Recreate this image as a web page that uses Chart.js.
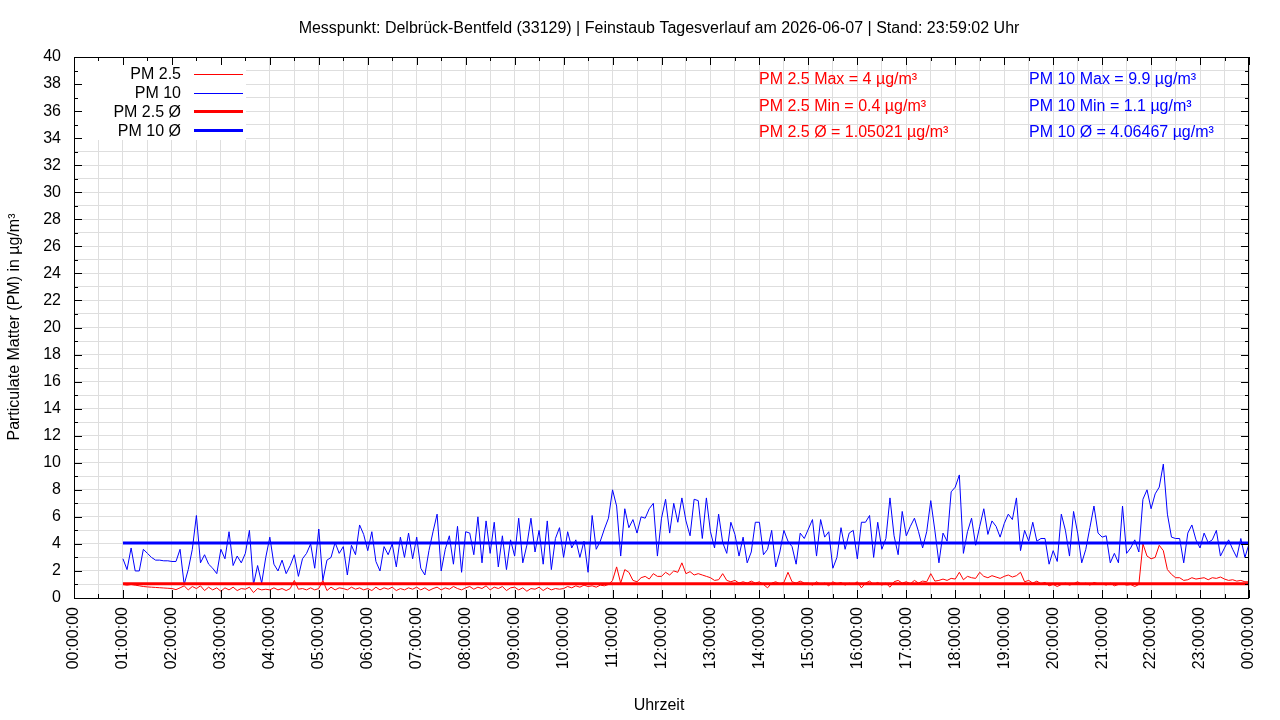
<!DOCTYPE html>
<html>
<head>
<meta charset="utf-8">
<title>Feinstaub Tagesverlauf</title>
<script src="https://cdn.jsdelivr.net/npm/chart.js@4.4.1/dist/chart.umd.min.js"></script>
<style>
  html, body { margin: 0; padding: 0; background: #fff; }
  #wrap { width: 1280px; height: 720px; }
</style>
</head>
<body>
<div id="wrap"><canvas id="pm-chart" width="1280" height="720"></canvas></div>
<script>
const startHour = 1;
const stepMinutes = 5;

const pm25 = [
    1.0, 0.95, 1.0, 0.95, 0.9, 0.85, 0.82, 0.8, 0.78, 0.76, 0.74, 0.72,
    0.7, 0.62, 0.75, 0.9, 0.6, 0.85, 0.7, 0.9, 0.55, 0.8, 0.6, 0.75,
    0.5, 0.75, 0.6, 0.8, 0.55, 0.7, 0.65, 0.8, 0.4, 0.7, 0.6, 0.65,
    0.6, 0.75, 0.6, 0.7, 0.55, 0.7, 1.3, 0.65, 0.7, 0.6, 0.75, 0.6,
    0.7, 1.3, 0.55, 0.8, 0.6, 0.75, 0.7, 0.6, 0.8, 0.65, 0.75, 0.6,
    0.7, 0.55, 0.8, 0.6, 0.75, 0.65, 0.8, 0.55, 0.7, 0.6, 0.75, 0.65,
    0.8, 0.6, 0.75, 0.55, 0.7, 0.8, 0.6, 0.75, 0.65, 0.85, 0.7, 0.6,
    0.75, 0.85, 0.65, 0.8, 0.7, 0.9, 0.6, 0.8, 0.7, 0.85, 0.55, 0.75,
    0.8, 0.6, 0.75, 0.5, 0.7, 0.65, 0.8, 0.55, 0.75, 0.6, 0.7, 0.65,
    0.7, 0.85, 0.75, 0.9, 0.8, 0.95, 0.85, 0.9, 0.8, 0.95, 0.9, 1.0,
    1.3, 2.3, 1.1, 2.1, 1.9, 1.3, 1.2, 1.5, 1.6, 1.4, 1.8, 1.6,
    1.6, 1.9, 1.7, 2.0, 1.9, 2.6, 1.8, 1.95, 1.7, 1.8, 1.7, 1.6,
    1.5, 1.3, 1.35, 1.8, 1.3, 1.2, 1.3, 1.1, 1.2, 1.1, 1.25, 1.1,
    1.2, 1.0, 0.75, 1.1, 1.2, 1.05, 1.15, 1.9, 1.2, 1.1, 1.25, 1.1,
    1.1, 0.95, 1.2, 1.0, 1.1, 0.9, 1.2, 1.05, 1.15, 0.95, 1.1, 1.0,
    1.2, 0.75, 1.1, 1.25, 1.0, 1.15, 0.95, 1.1, 0.8, 1.2, 1.3, 1.1,
    1.2, 1.05, 1.3, 1.1, 1.25, 1.2, 1.8, 1.25, 1.3, 1.4, 1.3, 1.45,
    1.4, 1.9, 1.35, 1.6, 1.5, 1.45, 1.9, 1.6, 1.5, 1.65, 1.55, 1.45,
    1.6, 1.7, 1.55, 1.65, 1.9, 1.2, 1.3, 1.1, 1.25, 1.05, 1.15, 0.9,
    1.0, 0.85, 1.0, 1.1, 0.95, 1.05, 1.2, 1.0, 1.1, 0.95, 1.15, 1.05,
    1.05, 0.95, 1.1, 0.9, 1.0, 1.05, 0.95, 1.0, 0.85, 1.0, 4.0, 3.1,
    2.9, 3.0, 3.9, 3.5, 2.1, 1.75, 1.5, 1.5, 1.3, 1.35, 1.5, 1.4,
    1.45, 1.5, 1.35, 1.5, 1.45, 1.55, 1.4, 1.3, 1.35, 1.25, 1.3, 1.2,
    1.2
];

const pm10 = [
    2.9, 2.1, 3.7, 2.0, 2.0, 3.6, 3.3, 3.0, 2.8, 2.8, 2.75, 2.75,
    2.7, 2.7, 3.6, 1.0, 2.1, 3.6, 6.1, 2.6, 3.2, 2.5, 2.2, 1.8,
    3.6, 2.9, 4.9, 2.4, 3.1, 2.6, 3.3, 5.0, 1.0, 2.4, 1.1, 3.0,
    4.5, 2.5, 2.0, 2.8, 1.8, 2.4, 3.2, 1.6, 2.9, 3.3, 4.0, 2.2,
    5.1, 1.3, 2.8, 3.0, 4.1, 3.3, 3.8, 1.7, 3.9, 3.2, 5.4, 4.7,
    3.5, 4.9, 2.7, 2.0, 3.8, 3.2, 4.0, 2.3, 4.5, 3.0, 4.8, 2.9,
    4.5, 2.2, 1.7, 3.5, 4.9, 6.2, 2.0, 3.6, 4.6, 2.5, 5.3, 1.9,
    4.9, 4.8, 3.2, 6.0, 2.6, 5.7, 3.3, 5.6, 2.3, 4.6, 2.1, 4.3,
    3.1, 5.9, 2.6, 3.9, 5.9, 3.4, 5.0, 2.5, 5.7, 2.1, 4.4, 5.2,
    3.0, 4.9, 3.7, 4.3, 3.0, 4.2, 1.9, 6.1, 3.6, 4.2, 5.1, 5.9,
    8.0, 6.8, 3.1, 6.6, 5.2, 5.8, 4.8, 6.0, 5.9, 6.6, 7.0, 3.1,
    5.9, 7.3, 4.8, 7.0, 5.6, 7.4, 5.7, 4.6, 7.3, 7.2, 4.4, 7.4,
    4.9, 3.7, 6.2, 4.1, 3.3, 5.6, 4.7, 3.1, 4.5, 2.6, 3.4, 5.6,
    5.6, 3.2, 3.6, 5.0, 2.3, 3.4, 5.0, 4.2, 3.8, 2.5, 4.8, 4.4,
    5.1, 5.8, 3.1, 5.8, 4.5, 4.9, 2.2, 3.0, 5.2, 3.6, 4.8, 5.0,
    2.9, 5.6, 5.6, 6.1, 3.0, 5.6, 3.6, 4.4, 7.4, 4.6, 3.2, 6.4,
    4.6, 5.3, 5.9, 4.9, 3.7, 4.9, 7.2, 5.0, 2.6, 4.8, 4.2, 7.85,
    8.2, 9.1, 3.3, 4.9, 5.9, 3.9, 5.3, 6.6, 4.7, 5.7, 5.3, 4.5,
    5.5, 6.2, 5.8, 7.4, 3.5, 5.0, 4.2, 5.6, 4.2, 4.4, 4.4, 2.5,
    3.5, 2.7, 6.2, 5.0, 3.1, 6.4, 4.8, 2.6, 3.6, 5.2, 6.8, 4.8,
    4.5, 4.6, 2.6, 3.3, 2.6, 6.8, 3.3, 3.7, 4.3, 3.4, 7.3, 8.0,
    6.6, 7.7, 8.2, 9.9, 6.2, 4.5, 4.4, 4.4, 2.6, 4.8, 5.4, 4.3,
    3.7, 4.8, 4.1, 4.3, 5.0, 3.1, 3.7, 4.3, 3.6, 3.0, 4.4, 3.0,
    4.0
];

// Kennwerte des Tages
const pm25Max = 4;
const pm25Min = 0.4;
const pm25Avg = 1.05021;
const pm10Max = 9.9;
const pm10Min = 1.1;
const pm10Avg = 4.06467;

const legendLabels = ['PM 2.5', 'PM 10', 'PM 2.5 Ø', 'PM 10 Ø'];
const titleText = 'Messpunkt: Delbrück-Bentfeld (33129) | Feinstaub Tagesverlauf am 2026-06-07 | Stand: 23:59:02 Uhr';

const FONT = '"Liberation Sans", Arial, Helvetica, sans-serif';
const RED = '#ff0000';
const BLUE = '#0000ff';

const toPoints = arr => arr.map((v, i) => ({ x: startHour + i * stepMinutes / 60, y: v }));
const endHour = startHour + (pm10.length - 1) * stepMinutes / 60;
const flatLine = v => [{ x: startHour, y: v }, { x: endHour, y: v }];

function hourLabel(v) {
    const h = Math.round(v) % 24;
    return String(h).padStart(2, '0') + ':00:00';
}

// gnuplot-artiger Rahmen, Ticks, Legende und Beschriftungen
const gnuplotLook = {
    id: 'gnuplotLook',
    beforeDatasetsDraw(chart) {
        const ctx = chart.ctx;
        const a = chart.chartArea;
        ctx.save();
        ctx.fillStyle = '#fff';
        ctx.fillRect(a.left + 1, a.top + 1, 171, 82);
        ctx.restore();
    },
    afterDraw(chart) {
        const ctx = chart.ctx;
        const a = chart.chartArea;
        const x = chart.scales.x;
        const y = chart.scales.y;
        ctx.save();

        // ticks nach innen, auf allen vier Seiten
        ctx.strokeStyle = '#000';
        ctx.lineWidth = 1;
        ctx.beginPath();
        for (let v = 0; v <= 40; v++) {
            const py = Math.round(y.getPixelForValue(v)) + 0.5;
            const len = v % 2 === 0 ? 8 : 4;
            ctx.moveTo(a.left, py); ctx.lineTo(a.left + len, py);
            ctx.moveTo(a.right, py); ctx.lineTo(a.right - len, py);
        }
        for (let v = 0; v <= 24; v += 0.5) {
            const px = Math.round(x.getPixelForValue(v)) + 0.5;
            const len = Number.isInteger(v) ? 8 : 4;
            ctx.moveTo(px, a.bottom); ctx.lineTo(px, a.bottom - len);
            ctx.moveTo(px, a.top); ctx.lineTo(px, a.top + len);
        }
        ctx.stroke();
        ctx.strokeRect(Math.round(a.left) + 0.5, Math.round(a.top) + 0.5,
            Math.round(a.right - a.left) - 1, Math.round(a.bottom - a.top));

        // Legende
        ctx.font = '16px ' + FONT;
        ctx.fillStyle = '#000';
        ctx.textBaseline = 'middle';
        ctx.textAlign = 'right';
        const legendColors = [RED, BLUE, RED, BLUE];
        const legendWidths = [1, 1, 3, 3];
        legendLabels.forEach((txt, i) => {
            const ly = 74 + i * 18.7;
            ctx.fillText(txt, 181, ly + 1);
            ctx.strokeStyle = legendColors[i];
            ctx.lineWidth = legendWidths[i];
            ctx.beginPath();
            ctx.moveTo(194, Math.round(ly) + 0.5);
            ctx.lineTo(243, Math.round(ly) + 0.5);
            ctx.stroke();
        });

        // Kennwerte
        ctx.textAlign = 'left';
        ctx.fillStyle = RED;
        ctx.fillText('PM 2.5 Max = ' + pm25Max + ' µg/m³', 759, 80);
        ctx.fillText('PM 2.5 Min = ' + pm25Min + ' µg/m³', 759, 106.5);
        ctx.fillText('PM 2.5 Ø = ' + pm25Avg + ' µg/m³', 759, 133);
        ctx.fillStyle = BLUE;
        ctx.fillText('PM 10 Max = ' + pm10Max + ' µg/m³', 1029, 80);
        ctx.fillText('PM 10 Min = ' + pm10Min + ' µg/m³', 1029, 106.5);
        ctx.fillText('PM 10 Ø = ' + pm10Avg + ' µg/m³', 1029, 133);

        // Titel und Achsentitel
        ctx.fillStyle = '#000';
        ctx.textAlign = 'center';
        ctx.fillText(titleText, 659, 29);
        ctx.fillText('Uhrzeit', 659, 706);
        ctx.translate(15, 327);
        ctx.rotate(-Math.PI / 2);
        ctx.fillText('Particulate Matter (PM) in µg/m³', 0, 0);
        ctx.restore();
    }
};

const ctx = document.getElementById('pm-chart').getContext('2d');
const pmChart = new Chart(ctx, {
    type: 'line',
    data: {
        datasets: [
            { label: legendLabels[0], data: toPoints(pm25), borderColor: RED, borderWidth: 1, order: 4 },
            { label: legendLabels[1], data: toPoints(pm10), borderColor: BLUE, borderWidth: 1, order: 3 },
            { label: legendLabels[2], data: flatLine(pm25Avg), borderColor: RED, borderWidth: 3, order: 2 },
            { label: legendLabels[3], data: flatLine(pm10Avg), borderColor: BLUE, borderWidth: 3, order: 1 }
        ]
    },
    options: {
        responsive: false,
        animation: false,
        parsing: false,
        elements: {
            point: { radius: 0 },
            line: { tension: 0, fill: false, borderCapStyle: 'butt' }
        },
        layout: { padding: { left: 0, right: 31, top: 57, bottom: 0 } },
        plugins: {
            legend: { display: false },
            title: { display: false },
            tooltip: { enabled: false }
        },
        scales: {
            x: {
                type: 'linear',
                min: 0,
                max: 24,
                afterFit: s => { s.height = 122; },
                grid: { color: '#dedede', drawTicks: false },
                border: { display: false },
                ticks: {
                    stepSize: 0.5,
                    autoSkip: false,
                    maxTicksLimit: 100,
                    minRotation: 90,
                    maxRotation: 90,
                    padding: 9,
                    color: '#000',
                    font: { family: FONT, size: 16 },
                    callback: v => Number.isInteger(v) ? hourLabel(v) : ''
                }
            },
            y: {
                min: 0,
                max: 40,
                afterFit: s => { s.width = 74; },
                grid: { color: '#dedede', drawTicks: false },
                border: { display: false },
                ticks: {
                    stepSize: 1,
                    autoSkip: false,
                    maxTicksLimit: 100,
                    padding: 13,
                    color: '#000',
                    font: { family: FONT, size: 16 },
                    callback: v => v % 2 === 0 ? v : ''
                }
            }
        }
    },
    plugins: [gnuplotLook]
});
</script>
</body>
</html>
